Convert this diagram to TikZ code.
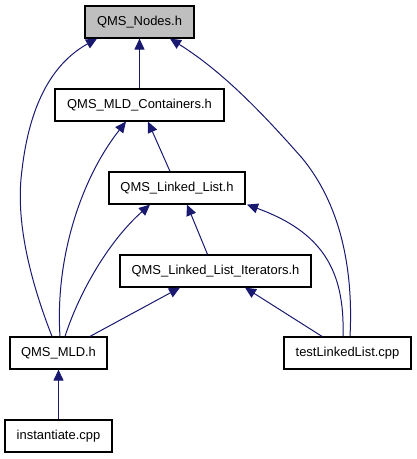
\documentclass[tikz,border=0pt]{standalone}
\usepackage{fontspec}
\setmainfont{Liberation Sans}
\usetikzlibrary{arrows.meta}
\definecolor{edgeblue}{RGB}{25,25,112}
\definecolor{rootgray}{RGB}{191,191,191}

\begin{document}
\begin{tikzpicture}[x=1bp,y=-1bp,
    file/.style={draw=black,line width=1.2bp,minimum height=32bp,inner sep=0pt,
      font=\fontsize{13}{15}\selectfont},
    dep/.style={edgeblue,line width=1bp,-{Triangle[length=11bp,width=10bp]}}]
  \useasboundingbox (0,0) rectangle (416,459);

  \node[file,fill=rootgray,minimum width=109bp] (nodes) at (139.5,22) {QMS\_Nodes.h};
  \node[file,minimum width=169bp] (cont) at (139.5,105) {QMS\_MLD\_Containers.h};
  \node[file,minimum width=136bp] (list) at (177,188) {QMS\_Linked\_List.h};
  \node[file,minimum width=191bp] (iter) at (215.5,271) {QMS\_Linked\_List\_Iterators.h};
  \node[file,minimum width=97bp] (mld) at (58.5,353) {QMS\_MLD.h};
  \node[file,minimum width=127bp] (test) at (347.5,353) {testLinkedList.cpp};
  \node[file,minimum width=107bp] (inst) at (58.5,436) {instantiate.cpp};

  \draw[dep] (cont) -- (nodes);
  \draw[dep] ([xshift=-6.5bp]mld.north) .. controls (30,280) and (15,220) .. (22,170)
    .. controls (30,100) and (55,62) .. ([xshift=-42.5bp]nodes.south);
  \draw[dep] ([xshift=2.5bp]test.north) .. controls (353,280) and (345,210) .. (302,158)
    .. controls (258,108) and (220,70) .. ([xshift=30.5bp]nodes.south);
  \draw[dep] ([xshift=-7bp]list.north) -- ([xshift=8.5bp]cont.south);
  \draw[dep] ([xshift=1.5bp]mld.north) .. controls (55,260) and (80,180) .. ([xshift=-13.5bp]cont.south);
  \draw[dep] ([xshift=6.5bp]mld.north) .. controls (80,290) and (110,240) .. ([xshift=-27bp]list.south);
  \draw[dep] ([xshift=-8bp]iter.north) -- ([xshift=10bp]list.south);
  \draw[dep] ([xshift=-4.5bp]test.north) .. controls (345,270) and (322,232) .. ([xshift=70bp]list.south);
  \draw[dep] ([xshift=31.5bp]mld.north) -- ([xshift=-35.5bp]iter.south);
  \draw[dep] ([xshift=-25.5bp]test.north) -- ([xshift=29.5bp]iter.south);
  \draw[dep] (inst) -- (mld);
\end{tikzpicture}
\end{document}
